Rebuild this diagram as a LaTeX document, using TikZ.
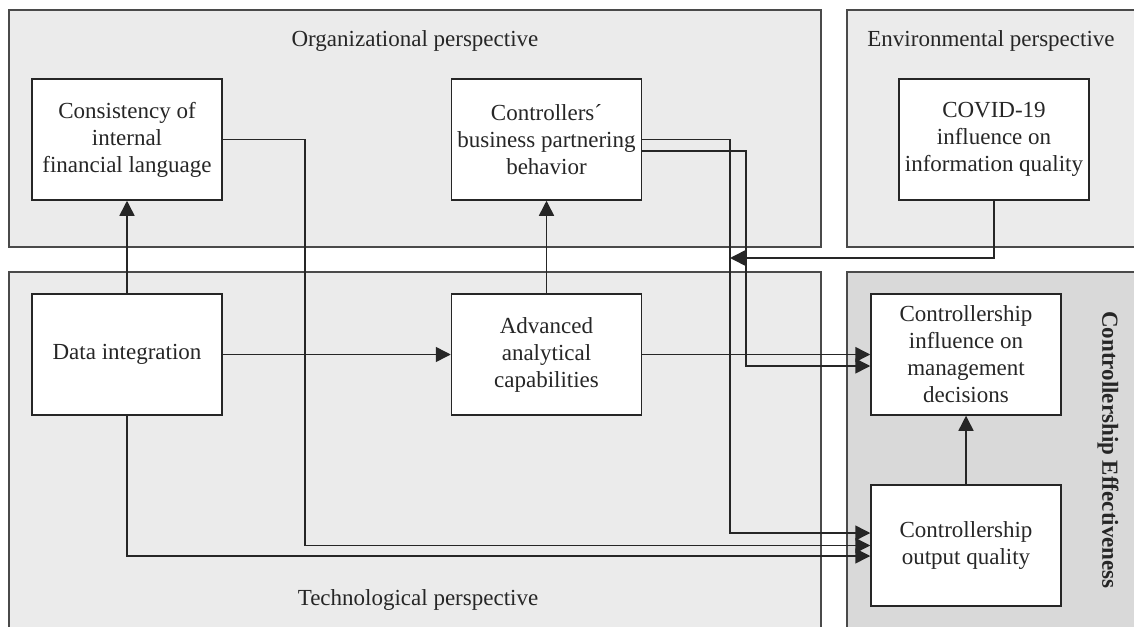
\documentclass[tikz,border=0pt]{standalone}
\usepackage{fontspec}
\setmainfont{Liberation Serif}
\usetikzlibrary{arrows.meta,calc}
\definecolor{panel}{HTML}{EBEBEB}
\definecolor{panelDark}{HTML}{D9D9D9}
\definecolor{ink}{HTML}{262626}
\definecolor{rim}{HTML}{4A4A4A}
\tikzset{
  panelbox/.style={draw=rim, line width=1.5pt, fill=panel},
  conceptbox/.style={draw=ink, line width=1.5pt, fill=white, text=ink,
    minimum width=190pt, minimum height=121pt, inner sep=0pt,
    align=center, font=\fontsize{23}{27}\selectfont,
    execute at begin node={\vspace*{6pt}}},
  caption/.style={text=ink, font=\fontsize{23}{27}\selectfont},
  link/.style={draw=ink, line width=1.5pt},
  arr/.style={link, -{Triangle[length=15pt,width=15pt]}},
}
\begin{document}
\begin{tikzpicture}[x=1pt,y=-1pt]
\useasboundingbox (0,0) rectangle (1134,626);
\clip (0,0) rectangle (1134,626);
\fill[white] (0,0) rectangle (1134,626);

% perspective panels
\draw[panelbox] (9,10) rectangle (821,247);
\draw[panelbox] (847,10) rectangle (1145,247);
\draw[panelbox] (9,272) rectangle (821,640);
\draw[panelbox, fill=panelDark] (847,272) rectangle (1145,640);

\node[caption] (orgT) at (415,41) {Organizational perspective};
\node[caption] (envT) at (991,41) {Environmental perspective};
\node[caption] (tecT) at (418,600) {Technological perspective};
\node[caption, rotate=-90, font=\fontsize{23}{27}\selectfont\bfseries] (effT) at (1108,450) {Controllership Effectiveness};

% concepts
\node[conceptbox] (cons) at (127,139.5) {Consistency of\\internal\\financial language};
\node[conceptbox] (ctrl) at (546.5,139.5) {Controllers\char"00B4\\business partnering\\behavior};
\node[conceptbox] (covid) at (994,139.5) {COVID-19\\influence on\\information quality};
\node[conceptbox] (data) at (127,354.5) {Data integration};
\node[conceptbox] (adv) at (546.5,354.5) {Advanced\\analytical\\capabilities};
\node[conceptbox] (infl) at (966,354.5) {Controllership\\influence on\\management\\decisions};
\node[conceptbox] (outq) at (966,545.5) {Controllership\\output quality};

% connectors
\draw[arr] (data.north) -- (cons.south);
\draw[arr] (adv.north) -- (ctrl.south);
\draw[arr] (data.east) -- (adv.west);
\draw[arr] (adv.east) -- (infl.west);
\draw[arr] (outq.north) -- (infl.south);

\draw[arr] (ctrl.east) -- (730,139.5) -- (730,533) -- ($(outq.west)+(0,-12.5)$);
\draw[arr] ($(ctrl.east)+(0,11.5)$) -- (746,151) -- (746,366) -- ($(infl.west)+(0,11.5)$);
\draw[arr] (cons.east) -- (305,139.5) -- (305,545.5) -- (outq.west);
\draw[arr] (data.south) -- (127,556) -- ($(outq.west)+(0,10.5)$);
\coordinate (covidEnd) at (730,258);
\draw[arr] (covid.south) -- (994,258) -- (covidEnd);
\end{tikzpicture}
\end{document}
